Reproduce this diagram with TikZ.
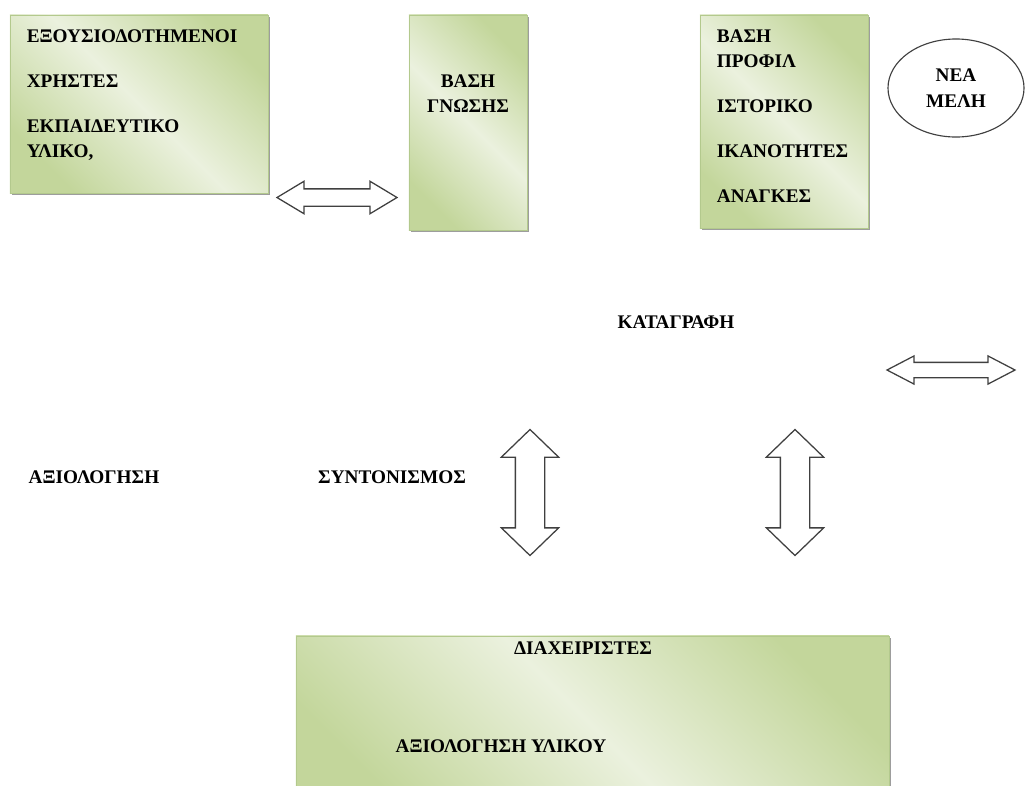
\documentclass[tikz,border=0pt]{standalone}
\usepackage{fontspec}
\setmainfont{Liberation Serif}
\usepackage{tikz}
\usetikzlibrary{shapes.geometric,shapes.arrows,shadows}
\definecolor{boxdark}{HTML}{C3D69B}
\definecolor{boxlight}{HTML}{EBF1DE}
\definecolor{boxline}{HTML}{B3C98D}
\definecolor{arrline}{HTML}{404040}

\begin{document}
\begin{tikzpicture}[x=0.025cm,y=-0.025cm,font=\fontsize{13.7}{18}\selectfont\bfseries,
 box/.style={draw=boxline,line width=0.6pt,shading=axis,top color=boxdark,bottom color=boxdark,middle color=boxlight,shading angle=-45,drop shadow={shadow xshift=1.6pt,shadow yshift=-1.6pt,fill=black!55,opacity=0.7}},
 txt/.style={inner sep=0pt,align=left},
 dblarr/.style={double arrow,draw=arrline,line width=0.9pt,fill=white,double arrow head indent=0pt}]
\useasboundingbox (0,0) rectangle (1025,785);
% the four boxes
\node[box,minimum width=6.45cm,minimum height=4.45cm] (users) at (139,104) {};
\node[box,minimum width=2.95cm,minimum height=5.375cm] (know) at (468,122.5) {};
\node[box,minimum width=4.2cm,minimum height=5.325cm] (profile) at (784,121.5) {};
\node[box,minimum width=14.825cm,minimum height=4.5cm] (admins) at (592.5,726) {};
\node[draw=arrline,line width=0.8pt,ellipse,minimum width=3.4cm,minimum height=2.45cm,inner sep=0pt,align=center,fill=white] (newm) at (956,88) {ΝΕΑ\\ΜΕΛΗ};
% texts in the boxes
\node[txt,anchor=north west] (userstxt) at ([shift={(17,15)}]users.north west) {ΕΞΟΥΣΙΟΔΟΤΗΜΕΝΟΙ\\[14pt]ΧΡΗΣΤΕΣ\\[14pt]ΕΚΠΑΙΔΕΥΤΙΚΟ\\ΥΛΙΚΟ,};
\node[txt,align=center,anchor=north] (knowtxt) at ([shift={(0,60)}]know.north) {ΒΑΣΗ\\ΓΝΩΣΗΣ};
\node[txt,anchor=north west] (proftxt) at ([shift={(17,15)}]profile.north west) {ΒΑΣΗ\\ΠΡΟΦΙΛ\\[14pt]ΙΣΤΟΡΙΚΟ\\[14pt]ΙΚΑΝΟΤΗΤΕΣ\\[14pt]ΑΝΑΓΚΕΣ};
\node[txt] (admtop) at (583,648) {ΔΙΑΧΕΙΡΙΣΤΕΣ};
\node[txt] (admeval) at (501,746) {ΑΞΙΟΛΟΓΗΣΗ ΥΛΙΚΟΥ};
% free labels
\node[txt] (record) at (676,322) {ΚΑΤΑΓΡΑΦΗ};
\node[txt] (evaluate) at (94,477) {ΑΞΙΟΛΟΓΗΣΗ};
\node[txt] (coord) at (392,477) {ΣΥΝΤΟΝΙΣΜΟΣ};
% double arrows
\node[dblarr,minimum height=3cm,inner sep=0.2cm,double arrow head extend=0.19cm,double arrow tip angle=62] (arrA) at (337,197.5) {};
\node[dblarr,minimum height=3.2cm,inner sep=0.175cm,double arrow head extend=0.16cm,double arrow tip angle=55] (arrB) at (951,370) {};
\node[dblarr,rotate=90,minimum height=3.15cm,inner sep=0.35cm,double arrow head extend=0.35cm,double arrow tip angle=92] (arrC) at (530,492.5) {};
\node[dblarr,rotate=90,minimum height=3.15cm,inner sep=0.35cm,double arrow head extend=0.35cm,double arrow tip angle=92] (arrD) at (795,492.5) {};
\end{tikzpicture}
\end{document}
